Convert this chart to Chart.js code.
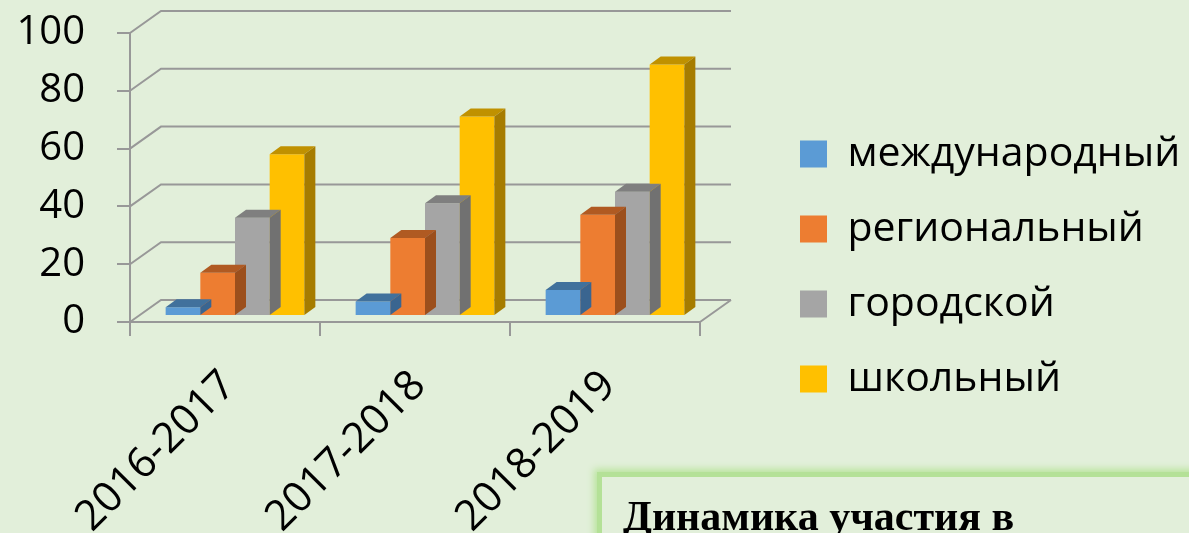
<!DOCTYPE html>
<html lang="ru">
<head>
<meta charset="utf-8">
<title>Динамика участия</title>
<script src="https://cdn.jsdelivr.net/npm/chart.js@4.4.1/dist/chart.umd.min.js"></script>
<style>
  html, body { margin: 0; padding: 0; background: #e2efda; overflow: hidden; }
  #wrap { position: relative; width: 1189px; height: 533px; }
  #note {
    position: absolute; left: 597px; top: 472px; width: 700px; height: 120px;
    border: 5px solid #b4e197; box-shadow: 0 0 7px 3px #b9e49d; background: #e2efda;
  }
  #note span {
    position: absolute; left: 21px; top: 18px; white-space: nowrap;
    font: bold 42px/42px "Liberation Serif", serif; color: #000;
  }
</style>
</head>
<body>
<div id="wrap">
  <canvas id="chart" width="1189" height="533"></canvas>
  <div id="note"><span>Динамика участия в</span></div>
</div>
<script>
// data
const categories = ['2016-2017', '2017-2018', '2018-2019'];
const seriesNames = ['международный', 'региональный', 'городской', 'школьный'];
const international = [3, 5, 9];
const regional = [15, 27, 35];
const city = [34, 39, 43];
const school = [56, 69, 87];
const yTicks = [0, 20, 40, 60, 80, 100];

// styles
const frontColors = ['#5b9bd5', '#ed7d31', '#a5a5a5', '#ffc000'];
const topColors = ['#41719c', '#b05a22', '#7f7f7f', '#c09100'];
const sideColors = ['#3a6590', '#9c4f1c', '#717171', '#a67c00'];
const GRID = '#989898';
const WALL = [31, -22];   // depth of the back wall
const SHIFT = [10, -6];   // bars sit a bit behind the front plane
const BAR = [11, -8];     // depth of a bar

const depth3d = {
    id: 'depth3d',
    beforeLayout(chart) {
        // fix the legend width so the plot ends where the picture does
        const legend = chart.legend;
        if (legend && !legend._patched) {
            const fit = legend.fit;
            legend.fit = function() {
                fit.call(this);
                this.width = 423;
            };
            legend._patched = true;
        }
    },
    beforeDatasetsDraw(chart) {
        const {ctx, chartArea: a, scales: {y}} = chart;
        ctx.save();
        ctx.strokeStyle = GRID;
        ctx.lineWidth = 2;
        ctx.beginPath();
        yTicks.forEach(v => {
            const py = y.getPixelForValue(v);
            ctx.moveTo(a.left, py);
            ctx.lineTo(a.left + WALL[0], py + WALL[1]);
            ctx.lineTo(a.right + WALL[0], py + WALL[1]);
        });
        ctx.moveTo(a.right, a.bottom);
        ctx.lineTo(a.right + WALL[0], a.bottom + WALL[1]);
        ctx.stroke();
        ctx.restore();
        ctx.save();
        ctx.translate(SHIFT[0], SHIFT[1]);
    },
    afterDatasetDraw(chart, args) {
        const ctx = chart.ctx;
        const i = args.index;
        args.meta.data.forEach(bar => {
            const p = bar.getProps(['x', 'y', 'base', 'width'], true);
            const l = p.x - p.width / 2;
            const r = p.x + p.width / 2;
            ctx.fillStyle = topColors[i];
            ctx.beginPath();
            ctx.moveTo(l, p.y);
            ctx.lineTo(r, p.y);
            ctx.lineTo(r + BAR[0], p.y + BAR[1]);
            ctx.lineTo(l + BAR[0], p.y + BAR[1]);
            ctx.closePath();
            ctx.fill();
            ctx.fillStyle = sideColors[i];
            ctx.beginPath();
            ctx.moveTo(r, p.y);
            ctx.lineTo(r + BAR[0], p.y + BAR[1]);
            ctx.lineTo(r + BAR[0], p.base + BAR[1]);
            ctx.lineTo(r, p.base);
            ctx.closePath();
            ctx.fill();
        });
    },
    afterDatasetsDraw(chart) {
        chart.ctx.restore();
    }
};

Chart.defaults.font.family = '"Open Sans", sans-serif';
Chart.defaults.color = '#000';

const values = [international, regional, city, school];

new Chart(document.getElementById('chart'), {
    type: 'bar',
    data: {
        labels: categories,
        datasets: seriesNames.map((name, i) => ({
            label: name,
            data: values[i],
            backgroundColor: frontColors[i],
            borderWidth: 0,
            categoryPercentage: 0.73,
            barPercentage: 1,
            clip: false
        }))
    },
    options: {
        responsive: false,
        animation: false,
        layout: { padding: 0 },
        plugins: {
            tooltip: { enabled: false },
            legend: {
                position: 'right',
                align: 'center',
                labels: {
                    boxWidth: 27,
                    boxHeight: 27,
                    padding: 34,
                    color: '#000',
                    font: { size: 41 }
                }
            }
        },
        scales: {
            x: {
                grid: {
                    offset: true,
                    drawOnChartArea: false,
                    tickLength: 14,
                    color: GRID,
                    lineWidth: 2
                },
                border: { color: GRID, width: 2 },
                ticks: {
                    minRotation: 45,
                    maxRotation: 45,
                    padding: 25,
                    labelOffset: 4,
                    color: '#000',
                    font: { size: 42 }
                },
                afterFit: s => { s.height = 211; }
            },
            y: {
                min: 0,
                max: 100,
                ticks: {
                    stepSize: 20,
                    autoSkip: false,
                    padding: 32,
                    color: '#000',
                    font: { size: 40 }
                },
                grid: {
                    drawOnChartArea: false,
                    tickLength: 13,
                    color: GRID,
                    lineWidth: 2
                },
                border: { color: GRID, width: 2 },
                afterFit: s => {
                    s.width = 130;
                    s.paddingTop = 33;
                }
            },
            y2: {
                position: 'right',
                display: true,
                grid: { display: false },
                border: { display: false },
                ticks: { display: false },
                afterFit: s => { s.width = 66; }
            }
        }
    },
    plugins: [depth3d]
});
</script>
</body>
</html>
